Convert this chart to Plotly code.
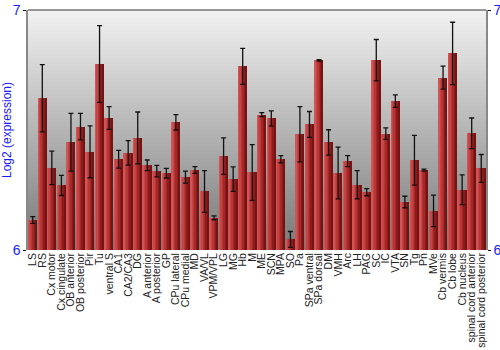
import plotly.graph_objects as go

categories = ["LS", "RS", "Cx motor", "Cx cingulate", "OB anterior", "OB posterior", "Pir", "Tu",
              "ventral S", "CA1", "CA2/CA3", "DG", "A anterior", "A posterior", "GP", "CPu lateral",
              "CPu medial", "MD", "VA/VL", "VPM/VPL", "LG", "MG", "Hb", "M", "ME", "SCN", "MPA", "SO",
              "Pa", "SPa ventral", "SPa dorsal", "DM", "VMH", "Arc", "LH", "PAG", "SC", "IC", "VTA",
              "SN", "Tg", "Pn", "MVe", "Cb vermis", "Cb lobe", "Cb nucleus", "spinal cord anterior",
              "spinal cord posterior"]

values = [6.125, 6.632, 6.342, 6.269, 6.449, 6.514, 6.409, 6.775,
          6.550, 6.378, 6.405, 6.467, 6.353, 6.329, 6.320, 6.532,
          6.304, 6.333, 6.244, 6.134, 6.391, 6.295, 6.765, 6.323,
          6.564, 6.548, 6.378, 6.044, 6.482, 6.523, 6.790, 6.448,
          6.321, 6.370, 6.272, 6.241, 6.791, 6.485, 6.620, 6.200,
          6.374, 6.333, 6.163, 6.718, 6.819, 6.251, 6.486, 6.340]

errors = [0.014, 0.140, 0.070, 0.042, 0.120, 0.055, 0.108, 0.160,
          0.047, 0.037, 0.051, 0.108, 0.022, 0.024, 0.020, 0.032,
          0.025, 0.014, 0.087, 0.008, 0.076, 0.051, 0.075, 0.116,
          0.008, 0.032, 0.015, 0.033, 0.115, 0.054, 0.003, 0.053,
          0.108, 0.023, 0.059, 0.015, 0.086, 0.024, 0.026, 0.024,
          0.104, 0.004, 0.066, 0.048, 0.130, 0.062, 0.064, 0.058]

ymin, ymax = 6, 7
bases = [ymin] * len(values)
heights = [v - ymin for v in values]

fig = go.Figure()

# horizontal gradient on each bar via overlaid strips
strip_colors = ["#cf5656", "#c84444", "#b83636", "#a32828", "#8c1c1c", "#761212"]
bar_w = 0.9
n = len(strip_colors)
sw = bar_w / n
for i, c in enumerate(strip_colors):
    fig.add_trace(go.Bar(
        x=list(range(len(categories))), y=heights, base=bases,
        width=sw, offset=-bar_w / 2 + i * sw,
        marker=dict(color=c, line=dict(width=0)),
        hoverinfo="skip", showlegend=False))

fig.add_trace(go.Scatter(
    x=list(range(len(categories))), y=values, mode="markers",
    marker=dict(size=1, opacity=0),
    error_y=dict(type="data", array=errors, color="#111111", thickness=1.3, width=2.5),
    showlegend=False, hoverinfo="skip"))

# invisible trace for right axis
fig.add_trace(go.Scatter(x=[0], y=[ymin], yaxis="y2", mode="markers",
                         marker=dict(opacity=0), showlegend=False, hoverinfo="skip"))

# gradient plot background
shapes = []
steps = 60
top = (242, 242, 242)
bot = (120, 120, 120)
for k in range(steps):
    t = (k + 0.5) / steps
    col = tuple(int(round(bot[j] + (top[j] - bot[j]) * t)) for j in range(3))
    shapes.append(dict(type="rect", xref="paper", yref="paper",
                       x0=0, x1=1, y0=k / steps, y1=(k + 1) / steps + 0.002,
                       fillcolor="rgb(%d,%d,%d)" % col, line=dict(width=0), layer="below"))
shapes.append(dict(type="line", xref="paper", yref="paper", x0=0, x1=1, y0=1, y1=1,
                   line=dict(color="#777777", width=1.5), layer="above"))

blue = "#1a1aff"
fig.update_layout(
    width=500, height=350,
    margin=dict(l=28, r=14, t=10, b=100, autoexpand=False),
    paper_bgcolor="white", plot_bgcolor="#bbbbbb",
    barmode="overlay", bargap=0,
    font=dict(family="Liberation Sans, Arial, sans-serif"),
    shapes=shapes,
    xaxis=dict(range=[-0.5, len(categories) - 0.5], tickmode="array",
               tickvals=list(range(len(categories))), ticktext=categories,
               tickangle=-90, tickfont=dict(size=10.5, color="#222222"),
               showgrid=False, zeroline=False, showline=False, ticks="", ticklen=0,
               automargin=False),
    yaxis=dict(range=[ymin, ymax], tickvals=[6, 7], ticktext=["6", "7"],
               tickfont=dict(size=14, color=blue), showgrid=False, zeroline=False,
               showline=True, linecolor="#888888", linewidth=1.5,
               ticks="outside", ticklen=3, tickcolor="#111111",
               title=dict(text="Log2 (expression)", font=dict(size=12, color=blue), standoff=2),
               automargin=False),
    yaxis2=dict(range=[ymin, ymax], tickvals=[6, 7], ticktext=["6", "7"], overlaying="y",
                side="right", tickfont=dict(size=14, color=blue), showgrid=False,
                zeroline=False, showline=True, linecolor="#888888", linewidth=1.5,
                ticks="outside", ticklen=3, tickcolor="#111111", automargin=False),
)

fig.write_html("out.html")
